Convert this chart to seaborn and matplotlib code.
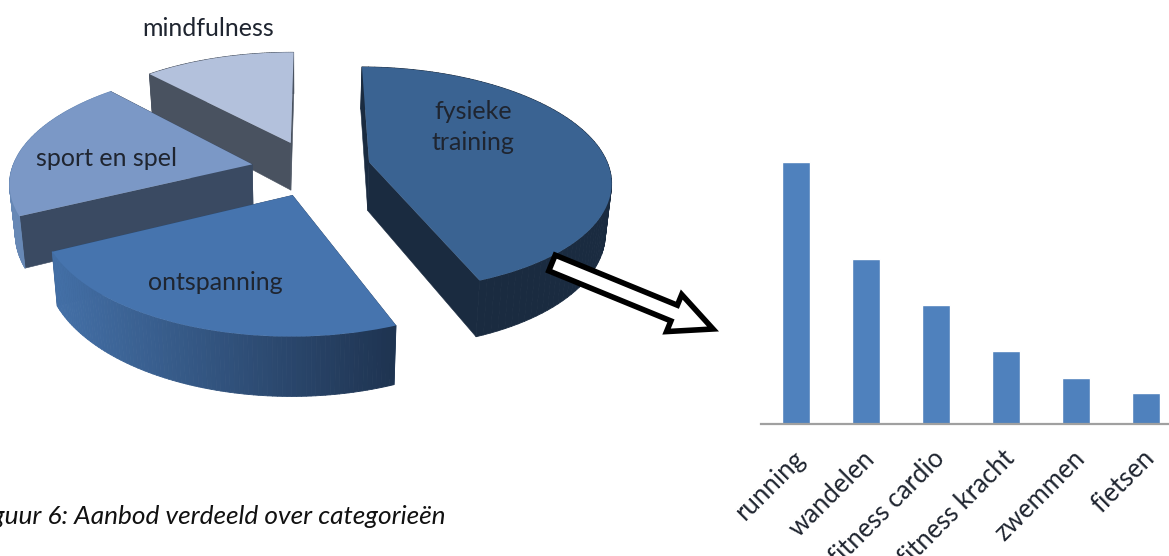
import numpy as np
import pandas as pd
import matplotlib
matplotlib.use("Agg")
import matplotlib.pyplot as plt
import seaborn as sns
from matplotlib.collections import PolyCollection
from matplotlib.colors import to_rgb
from matplotlib.patches import FancyArrow
from matplotlib.transforms import ScaledTranslation, Transform

# Offer per category (percent of the total)
categories = ["fysieke training", "ontspanning", "sport en spel", "mindfulness"]
shares = [44.0, 23.6, 20.4, 12.0]

# Breakdown of physical training
activities = ["running", "wandelen", "fitness cardio", "fitness kracht", "zwemmen", "fietsen"]
activity_values = [26.0, 16.4, 11.8, 7.2, 4.5, 3.0]

W, H = 1169, 556
FONT = "Lato"

sns.set_theme(style="white")
plt.rcParams["font.family"] = [FONT, "DejaVu Sans"]

# Tilted-disc projection, from pie coordinates to canvas pixels
CX, CY, RX, RY, PERSP = 300.0, 171.0, 241.0, 112.0, 0.15
THICK, SHRINK = 49.0, 0.98


def project(u, v):
    w = 1 + PERSP * np.asarray(v)
    return CX + RX * np.asarray(u) / w, CY - RY * np.asarray(v) / w


def project_base(u, v):
    x, y = project(u, v)
    w = 1 + PERSP * np.asarray(v)
    return CX + (x - CX) * SHRINK, y + THICK / w


class TiltedDisc(Transform):
    input_dims = output_dims = 2
    is_separable = False
    has_inverse = False

    def transform_non_affine(self, values):
        values = np.asarray(values, dtype=float)
        x, y = project(values[:, 0], values[:, 1])
        return np.column_stack([x, y])


def wall_quads(wedge):
    """Side faces of one slice: two radial walls and a strip along the rim."""
    cu, cv = wedge.center
    angles = np.radians(np.linspace(wedge.theta1, wedge.theta2, 90))
    us, vs = cu + wedge.r * np.cos(angles), cv + wedge.r * np.sin(angles)
    tx, ty = project(us, vs)
    bx, by = project_base(us, vs)
    rim = [[(tx[i], ty[i]), (tx[i + 1], ty[i + 1]), (bx[i + 1], by[i + 1]), (bx[i], by[i])]
           for i in range(len(us) - 1)]
    ax0, ay0 = project(cu, cv)
    bx0, by0 = project_base(cu, cv)
    radial = [[(ax0, ay0), (tx[j], ty[j]), (bx[j], by[j]), (bx0, by0)] for j in (0, -1)]
    return radial, rim, (tx + bx) / 2


fig = plt.figure(figsize=(W / 100, H / 100), dpi=100, facecolor="white")

# Exploded pie
ax = fig.add_axes([0, 0, 1, 1])
top_colors = ["#3A6392", "#4674AE", "#7B98C6", "#B3C1DC"]
wall_colors = ["#1A2B40", "#2D4A70", "#3A4A62", "#495260"]
rim_colors = ["#1A2B40", None, "#6788B5", "#495260"]
rim_over_walls = [True, True, True, False]
slice_shift = [(0.29, 0.08), (-0.03, -0.21), (-0.20, 0.06), (-0.04, 0.26)]
slice_layer = [3, 4, 2, 1]

wedges, _ = ax.pie(shares, startangle=89.5, counterclock=False, colors=top_colors,
                   wedgeprops={"linewidth": 0})
disc_to_canvas = TiltedDisc() + ax.transData
for i, wedge in enumerate(wedges):
    wedge.set_center(slice_shift[i])
    wedge.set_transform(disc_to_canvas)
    wedge.set_zorder(slice_layer[i] + 0.5)
    wedge.set_clip_on(False)

    radial, rim, mid_x = wall_quads(wedge)
    if rim_colors[i] is None:
        # Rim shading that darkens from left to right
        frac = np.clip((mid_x[:-1] - 60) / (395 - 60), 0, 1)[:, None]
        left, right = np.array(to_rgb("#436FA6")), np.array(to_rgb("#1E3350"))
        strip = left * (1 - frac) + right * frac
    else:
        strip = [rim_colors[i]] * len(rim)
    rim_z, wall_z = (0.2, 0.1) if rim_over_walls[i] else (0.1, 0.2)
    ax.add_collection(PolyCollection(radial, facecolors=wall_colors[i], edgecolors=wall_colors[i],
                                     linewidths=0.4, zorder=slice_layer[i] + wall_z))
    ax.add_collection(PolyCollection(rim, facecolors=strip, edgecolors=strip, linewidths=0.6,
                                     zorder=slice_layer[i] + rim_z))

ax.set_aspect("auto")
ax.set_xlim(0, W)
ax.set_ylim(H, 0)
ax.axis("off")

label_style = dict(ha="center", va="center", fontsize=18, color="#1F2530", zorder=8)
ax.text(208, 29, "mindfulness", **label_style)
ax.text(107, 158, "sport en spel", **label_style)
ax.text(215, 283, "ontspanning", **label_style)
ax.text(473, 127, "fysieke\ntraining", linespacing=1.45, **label_style)

ax.text(-28, 516, "Figuur 6: Aanbod verdeeld over categorieën", ha="left", va="center",
        fontsize=18.9, style="italic", color="#111111", clip_on=False)

# Arrow from the physical-training slice to the breakdown
ax.add_patch(FancyArrow(552, 263, 161, 66, width=17, head_width=40, head_length=42,
                        length_includes_head=True, facecolor="white", edgecolor="black",
                        linewidth=4.0, joinstyle="miter", zorder=7))

# Bar chart of the physical-training breakdown
axis_left, axis_right, axis_top, axis_bottom = 761, 1181, 140, 423.5
ax_bar = fig.add_axes([axis_left / W, 1 - axis_bottom / H,
                       (axis_right - axis_left) / W, (axis_bottom - axis_top) / H])
ax_bar.patch.set_alpha(0)
data = pd.DataFrame({"activity": activities, "value": activity_values})
sns.barplot(data=data, x="activity", y="value", color="#4F81BD", saturation=1, width=0.41, ax=ax_bar)
ax_bar.set_xlim(-0.5, 5.5)
ax_bar.set_ylim(0, 28.2)
ax_bar.set_xlabel("")
ax_bar.set_ylabel("")
ax_bar.set_yticks([])
sns.despine(ax=ax_bar, left=True)
ax_bar.spines["bottom"].set_color("#A0A0A0")
ax_bar.spines["bottom"].set_linewidth(1.6)
ax_bar.tick_params(axis="x", length=0, pad=16)
nudge = ScaledTranslation(-3 / 72, 0, fig.dpi_scale_trans)
for tick in ax_bar.get_xticklabels():
    tick.set(rotation=45, ha="right", rotation_mode="anchor", fontsize=18.5, color="#1F2530")
    tick.set_transform(tick.get_transform() + nudge)

fig.savefig("out.png", dpi=100, facecolor="white")
